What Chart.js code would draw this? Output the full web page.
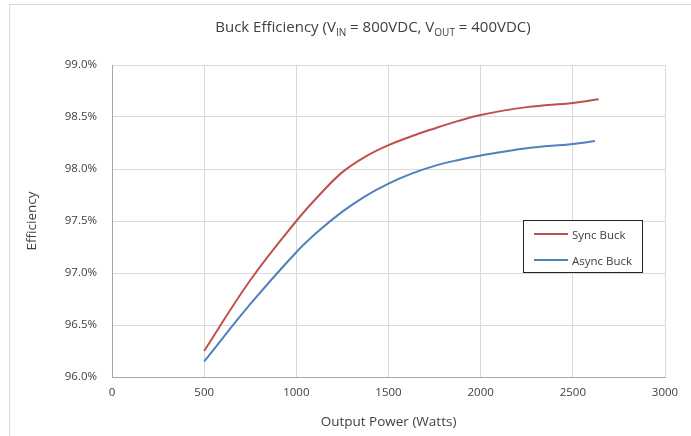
<!DOCTYPE html>
<html>
<head>
<meta charset="utf-8">
<script src="https://cdn.jsdelivr.net/npm/chart.js@4.4.0/dist/chart.umd.min.js"></script>
<style>
    body { margin: 0; background: #fff; font-family: 'Open Sans', sans-serif; }
    #wrap { position: relative; width: 691px; height: 436px; overflow: hidden; }
    #frame { position: absolute; left: 9px; top: 4px; width: 700px; height: 450px; border: 1px solid #d9d9d9; box-sizing: border-box; }
    #title { position: absolute; top: 16px; left: 0; width: 746px; text-align: center; font-size: 15px; color: #404040; white-space: nowrap; }
    #title sub { font-size: 10px; }
    #legend { position: absolute; left: 523px; top: 220px; width: 120px; height: 53px; border: 1px solid #222; box-sizing: border-box; background: #fff; font-size: 11.5px; color: #404040; }
    .item { position: absolute; left: 10px; height: 14px; display: flex; align-items: center; }
    .item span.line { display: inline-block; width: 34px; height: 2px; margin-right: 4px; }
</style>
</head>
<body>
<div id="wrap">
    <div id="frame"></div>
    <canvas id="myChart" width="691" height="436"></canvas>
    <div id="title">Buck Efficiency (V<sub>IN</sub> = 800VDC, V<sub>OUT</sub> = 400VDC)</div>
    <div id="legend"></div>
</div>
<script>
const syncPower = [500, 750, 1000, 1125, 1250, 1375, 1500, 1625, 1750, 1875, 2000, 2250, 2500, 2640]
const syncEff = [96.25, 96.93, 97.50, 97.75, 97.97, 98.12, 98.23, 98.315, 98.39, 98.46, 98.52, 98.595, 98.635, 98.67]
const asyncPower = [500, 750, 1000, 1125, 1250, 1375, 1500, 1625, 1750, 1875, 2000, 2250, 2500, 2620]
const asyncEff = [96.15, 96.70, 97.20, 97.41, 97.59, 97.74, 97.86, 97.955, 98.03, 98.085, 98.13, 98.20, 98.24, 98.27]
const seriesNames = ['Sync Buck', 'Async Buck']
const seriesColors = ['#C0504D', '#4F81BD']

const toPoints = (xs, ys) => xs.map((x, i) => ({x: x, y: ys[i]}))

const buildLegend = () => {
    const legend = document.getElementById('legend')
    seriesNames.forEach((name, i) => {
        const item = document.createElement('div')
        item.className = 'item'
        item.style.top = (6 + i * 26) + 'px'
        item.innerHTML = `<span class="line" style="background:${seriesColors[i]}"></span>${name}`
        legend.appendChild(item)
    })
}

window.onload = () => {
    buildLegend()
    const ctx = document.getElementById('myChart').getContext('2d')
    const font = {family: "'Open Sans', sans-serif", size: 11.5}

    new Chart(ctx, {
        type: 'line',
        data: {
            datasets: [{
                label: seriesNames[0],
                data: toPoints(syncPower, syncEff),
                borderColor: seriesColors[0],
                borderWidth: 2,
                pointRadius: 0,
                tension: 0.4
            }, {
                label: seriesNames[1],
                data: toPoints(asyncPower, asyncEff),
                borderColor: seriesColors[1],
                borderWidth: 2,
                pointRadius: 0,
                tension: 0.4
            }]
        },
        options: {
            responsive: false,
            animation: false,
            layout: {padding: {top: 65, right: 26, left: 0, bottom: 0}},
            plugins: {legend: {display: false}, tooltip: {enabled: false}},
            scales: {
                x: {
                    type: 'linear',
                    min: 0,
                    max: 3000,
                    ticks: {stepSize: 500, color: '#404040', font: font, padding: 9, maxRotation: 0,
                        callback: (value) => String(value)},
                    grid: {color: '#d9d9d9', drawTicks: false},
                    border: {color: '#a6a6a6'},
                    title: {display: true, text: 'Output Power (Watts)', color: '#404040',
                        font: {family: "'Open Sans', sans-serif", size: 13.5}, padding: {top: 0, bottom: 6}},
                    afterFit: (scale) => { scale.height = 59 }
                },
                y: {
                    min: 96,
                    max: 99,
                    ticks: {stepSize: 0.5, color: '#404040', font: font, padding: 15,
                        callback: (value) => value.toFixed(1) + '%'},
                    grid: {color: '#d9d9d9', drawTicks: false},
                    border: {color: '#a6a6a6'},
                    title: {display: true, text: 'Efficiency', color: '#404040',
                        font: {family: "'Open Sans', sans-serif", size: 13.5}, padding: {top: 24, bottom: 0}},
                    afterFit: (scale) => { scale.width = 112 }
                }
            }
        }
    })
}
</script>
</body>
</html>
